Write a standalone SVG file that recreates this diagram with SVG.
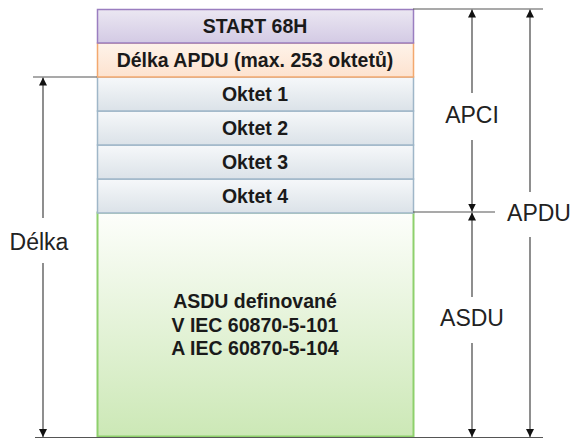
<svg xmlns="http://www.w3.org/2000/svg" width="576" height="439" viewBox="0 0 576 439">
<style>
.bt{font-family:"Liberation Sans",Arial,sans-serif;font-weight:bold;font-size:19.5px;fill:#1a1a1a;text-anchor:middle}
.lb{font-family:"Liberation Sans",Arial,sans-serif;font-size:23px;fill:#222;text-anchor:middle}
.ln{stroke:#555;stroke-width:1.2;fill:none}
.ar{stroke:#444;stroke-width:1.2;fill:none;marker-end:url(#ah)}
</style>
<defs>
<linearGradient id="gS" x1="0" y1="0" x2="0" y2="1"><stop offset="0" stop-color="#ebe7f2"/><stop offset="1" stop-color="#d3cae4"/></linearGradient>
<linearGradient id="gD" x1="0" y1="0" x2="0" y2="1"><stop offset="0" stop-color="#fef3ea"/><stop offset="1" stop-color="#fde2cf"/></linearGradient>
<linearGradient id="gO" x1="0" y1="0" x2="0" y2="1"><stop offset="0" stop-color="#f6f8fa"/><stop offset="1" stop-color="#dbe2e8"/></linearGradient>
<linearGradient id="gA" x1="0" y1="0" x2="0" y2="1"><stop offset="0" stop-color="#fdfefb"/><stop offset="1" stop-color="#cce8b6"/></linearGradient>
<marker id="ah" viewBox="0 0 8 12" refX="8" refY="6" markerWidth="8" markerHeight="12" markerUnits="userSpaceOnUse" orient="auto"><path d="M0,2 L8,6 L0,10 Z" fill="#111"/></marker>
</defs>
<g id="asdu"><rect x="97.5" y="212.5" width="316" height="224" fill="url(#gA)" stroke="#8ed06c" stroke-width="2"/>
<text class="bt" x="255" y="308">ASDU definované</text>
<text class="bt" x="255" y="332">V IEC 60870-5-101</text>
<text class="bt" x="255" y="355">A IEC 60870-5-104</text></g>
<g id="oktet4"><rect x="97.5" y="179" width="316" height="34" fill="url(#gO)" stroke="#9fb6c8" stroke-width="1.5"/><text class="bt" x="255" y="203">Oktet 4</text></g>
<g id="oktet3"><rect x="97.5" y="145" width="316" height="34" fill="url(#gO)" stroke="#9fb6c8" stroke-width="1.5"/><text class="bt" x="255" y="169">Oktet 3</text></g>
<g id="oktet2"><rect x="97.5" y="111" width="316" height="34" fill="url(#gO)" stroke="#9fb6c8" stroke-width="1.5"/><text class="bt" x="255" y="135">Oktet 2</text></g>
<g id="oktet1"><rect x="97.5" y="77" width="316" height="34" fill="url(#gO)" stroke="#9fb6c8" stroke-width="1.5"/><text class="bt" x="255" y="101">Oktet 1</text></g>
<g id="delka-apdu"><rect x="97.5" y="43" width="316" height="34" fill="url(#gD)" stroke="#f3a86e" stroke-width="1.5"/><text class="bt" x="255" y="67">Délka APDU (max. 253 oktetů)</text></g>
<g id="start"><rect x="97.5" y="9.5" width="316" height="33.5" fill="url(#gS)" stroke="#9a7ec0" stroke-width="1.5"/><text class="bt" x="255" y="33">START 68H</text></g>
<g id="connectors">
<line class="ln" x1="413" y1="9" x2="543" y2="9"/>
<line class="ln" x1="413" y1="212" x2="495" y2="212"/>
<line class="ln" x1="33" y1="77" x2="97" y2="77"/>
<line class="ln" x1="35" y1="437.5" x2="543" y2="437.5"/>
<line class="ar" x1="472" y1="93" x2="472" y2="9.5"/>
<line class="ar" x1="472" y1="140" x2="472" y2="211.5"/>
<line class="ar" x1="472" y1="297" x2="472" y2="212.5"/>
<line class="ar" x1="472" y1="343" x2="472" y2="437"/>
<line class="ar" x1="530" y1="192" x2="530" y2="9.5"/>
<line class="ar" x1="530" y1="237" x2="530" y2="437"/>
<line class="ar" x1="43" y1="218" x2="43" y2="77.5"/>
<line class="ar" x1="43" y1="263" x2="43" y2="437"/>
</g>
<g id="labels">
<text class="lb" x="472" y="123">APCI</text>
<text class="lb" x="539" y="221">APDU</text>
<text class="lb" x="472" y="326">ASDU</text>
<text class="lb" x="39" y="250">Délka</text>
</g>
</svg>
